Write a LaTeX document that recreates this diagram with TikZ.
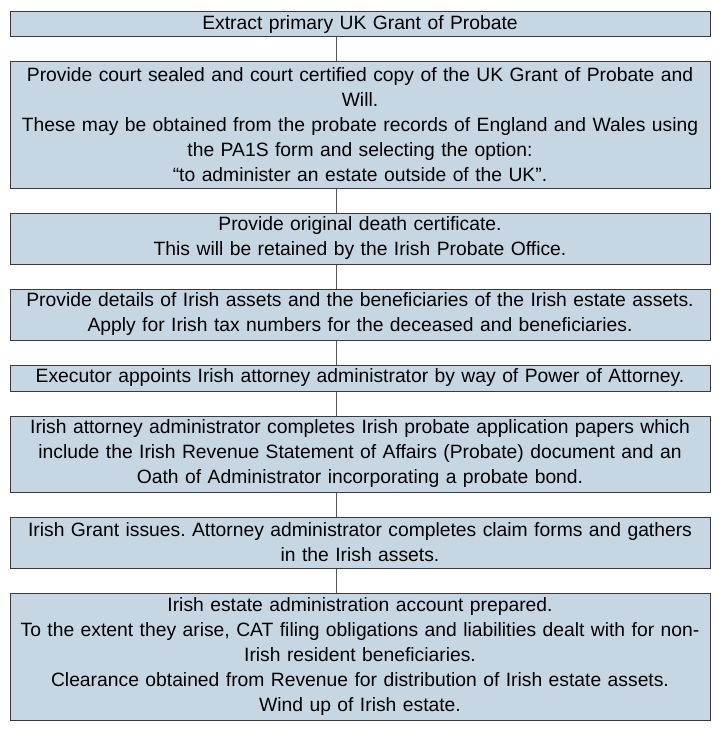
\documentclass[tikz,border=0pt]{standalone}
\usepackage{fontspec}
\setmainfont{Liberation Sans}
\definecolor{boxfill}{HTML}{C6D6E2}
\definecolor{boxline}{HTML}{3A3A3A}
\definecolor{connline}{HTML}{555555}
\begin{document}
\frenchspacing
\begin{tikzpicture}[x=1pt,y=-1pt,
  stepbox/.style={draw=boxline, line width=1pt, fill=boxfill, minimum width=700pt, text width=696pt, align=center, inner sep=0pt, font=\fontsize{19.3}{25}\selectfont},
  conn/.style={draw=connline, line width=0.9pt}]
\useasboundingbox (0,0) rectangle (719,738);
\fill[white] (0,0) rectangle (719,738);
\coordinate (cx) at (336,0);
\node[stepbox, minimum height=25pt] (b1) at (360,24.5) {Extract primary UK Grant of Probate};
\node[stepbox, minimum height=126pt] (b2) at (360,125) {Provide court sealed and court certified copy of the UK Grant of Probate and\\Will.\\These may be obtained from the probate records of England and Wales using\\the PA1S form and selecting the option:\\“to administer an estate outside of the UK”.};
\node[stepbox, minimum height=51pt] (b3) at (360,238.5) {Provide original death certificate.\\This will be retained by the Irish Probate Office.};
\node[stepbox, minimum height=51pt] (b4) at (360,314.5) {Provide details of Irish assets and the beneficiaries of the Irish estate assets.\\Apply for Irish tax numbers for the deceased and beneficiaries.};
\node[stepbox, minimum height=26pt] (b5) at (360,378) {Executor appoints Irish attorney administrator by way of Power of Attorney.};
\node[stepbox, minimum height=76pt] (b6) at (360,454) {Irish attorney administrator completes Irish probate application papers which\\include the Irish Revenue Statement of Affairs (Probate) document and an\\Oath of Administrator incorporating a probate bond.};
\node[stepbox, minimum height=51pt] (b7) at (360,542.5) {Irish Grant issues. Attorney administrator completes claim forms and gathers\\in the Irish assets.};
\node[stepbox, minimum height=127pt] (b8) at (360,656.5) {Irish estate administration account prepared.\\To the extent they arise, CAT filing obligations and liabilities dealt with for non-\\Irish resident beneficiaries.\\Clearance obtained from Revenue for distribution of Irish estate assets.\\Wind up of Irish estate.};
\foreach \a/\b in {b1/b2,b2/b3,b3/b4,b4/b5,b5/b6,b6/b7,b7/b8}
  \draw[conn] (\a.south -| cx) -- (\b.north -| cx);
\end{tikzpicture}
\end{document}
